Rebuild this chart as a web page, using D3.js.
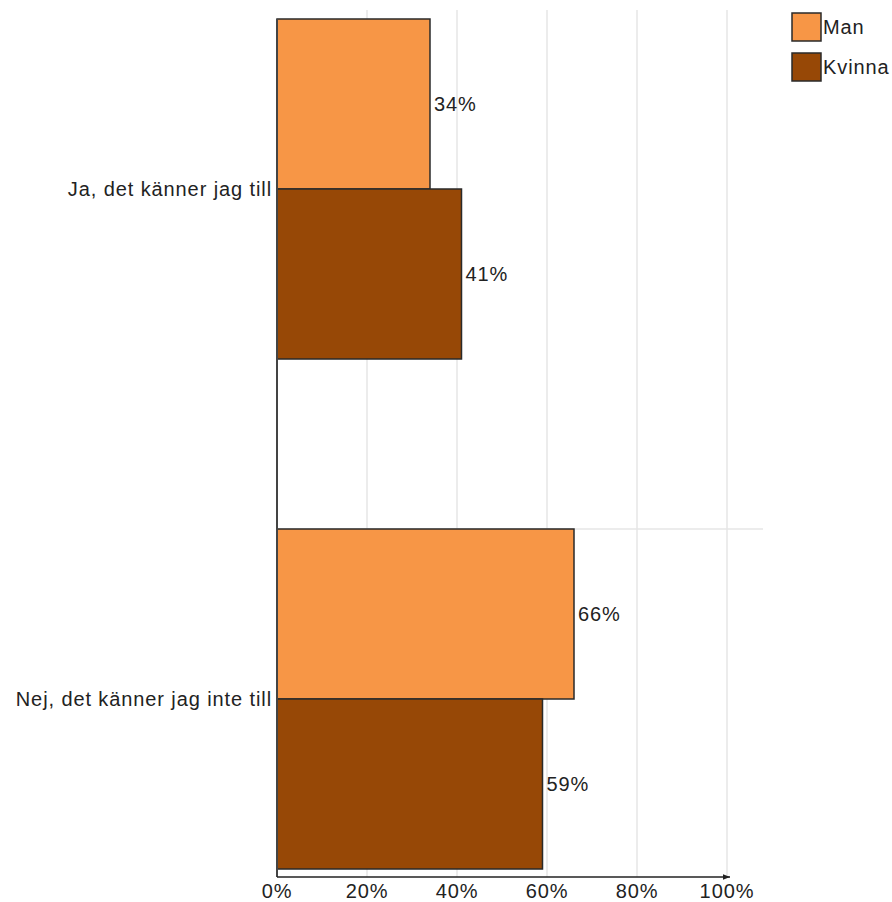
<!DOCTYPE html>
<html>
<head>
<meta charset="utf-8">
<script src="https://cdn.jsdelivr.net/npm/d3@7"></script>
<style>
  html, body { margin: 0; padding: 0; background: #fff; }
  text { font-family: "Liberation Sans", Arial, sans-serif; font-size: 20px; fill: #222; letter-spacing: 0.9px; }
</style>
</head>
<body>
<svg id="chart" width="892" height="902"></svg>
<script>
const categories = ["Ja, det känner jag till", "Nej, det känner jag inte till"];
const seriesNames = ["Man", "Kvinna"];
const manValues = [34, 66];
const kvinnaValues = [41, 59];
const seriesColors = ["#F79646", "#974806"];
const xTicks = [0, 20, 40, 60, 80, 100];

const svg = d3.select("#chart");
const x = d3.scaleLinear().domain([0, 100]).range([277, 727]);
const y = d3.scaleBand().domain(categories).range([19, 869]).paddingInner(1/3).paddingOuter(0);
const ys = d3.scaleBand().domain(seriesNames).range([0, y.bandwidth()]);
const color = d3.scaleOrdinal().domain(seriesNames).range(seriesColors);
const axisY = 877;

// vertical gridlines
svg.append("g").selectAll("line").data(xTicks.filter(d => d > 0)).join("line")
  .attr("x1", d => x(d)).attr("x2", d => x(d))
  .attr("y1", 10).attr("y2", axisY)
  .attr("stroke", "#e6e6e6").attr("stroke-width", 1.5);

// horizontal gridline at the top of second category
svg.append("line")
  .attr("x1", x(0)).attr("x2", 763)
  .attr("y1", y(categories[1])).attr("y2", y(categories[1]))
  .attr("stroke", "#e6e6e6").attr("stroke-width", 1.5);

const data = [];
categories.forEach((c, i) => {
  data.push({cat: c, s: "Man", v: manValues[i]});
  data.push({cat: c, s: "Kvinna", v: kvinnaValues[i]});
});

// bars
svg.append("g").selectAll("rect").data(data).join("rect")
  .attr("x", x(0))
  .attr("y", d => y(d.cat) + ys(d.s))
  .attr("width", d => x(d.v) - x(0))
  .attr("height", ys.bandwidth())
  .attr("fill", d => color(d.s))
  .attr("stroke", "#2a2a2a").attr("stroke-width", 1.5);

// value labels
svg.append("g").selectAll("text").data(data).join("text")
  .attr("x", d => x(d.v) + 4)
  .attr("y", d => y(d.cat) + ys(d.s) + ys.bandwidth() / 2)
  .attr("dy", "0.35em")
  .text(d => d.v + "%");

// y axis line
svg.append("line")
  .attr("x1", x(0)).attr("x2", x(0))
  .attr("y1", 19).attr("y2", axisY)
  .attr("stroke", "#444").attr("stroke-width", 2);

// category labels
svg.append("g").selectAll("text").data(categories).join("text")
  .attr("x", 272)
  .attr("y", d => y(d) + y.bandwidth() / 2)
  .attr("dy", "0.35em")
  .attr("text-anchor", "end")
  .text(d => d);

// x axis with arrow
svg.append("defs").append("marker")
  .attr("id", "arrow").attr("viewBox", "0 0 10 10")
  .attr("refX", 10).attr("refY", 5)
  .attr("markerWidth", 7).attr("markerHeight", 7)
  .attr("markerUnits", "userSpaceOnUse")
  .attr("orient", "auto")
  .append("path").attr("d", "M0,1 L10,5 L0,9 Z").attr("fill", "#222");

svg.append("line")
  .attr("x1", x(0)).attr("x2", x(100) + 3)
  .attr("y1", axisY).attr("y2", axisY)
  .attr("stroke", "#222").attr("stroke-width", 1.5)
  .attr("marker-end", "url(#arrow)");

svg.append("g").selectAll("text").data(xTicks).join("text")
  .attr("x", d => x(d))
  .attr("y", 898)
  .attr("text-anchor", "middle")
  .text(d => d + "%");

// legend
const leg = svg.append("g").selectAll("g").data(seriesNames).join("g")
  .attr("transform", (d, i) => `translate(792, ${13 + i * 40})`);
leg.append("rect").attr("width", 29).attr("height", 28)
  .attr("fill", d => color(d)).attr("stroke", "#2a2a2a").attr("stroke-width", 1.5);
leg.append("text").attr("x", 31).attr("y", 14).attr("dy", "0.35em").text(d => d);
</script>
</body>
</html>
